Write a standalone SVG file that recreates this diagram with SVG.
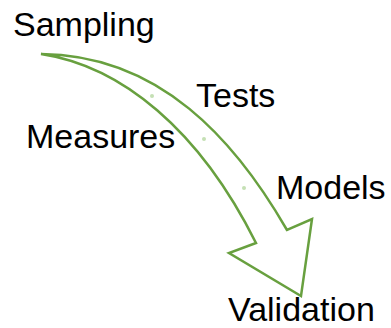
<svg xmlns="http://www.w3.org/2000/svg" width="391" height="328" viewBox="0 0 391 328">
<style>
.lbl{font-family:"Liberation Sans",Arial,sans-serif;font-size:34px;fill:#000}
.arrow{fill:#fff;stroke:#68a03f;stroke-width:2.5;stroke-linejoin:miter}
.dot{fill:#c5e0b4}
</style>
<rect width="391" height="328" fill="#fff"/>
<g id="connectors">
<path class="arrow" d="M41,54 C160,55 235,140 287,230 L312,219 L301,296 L229,253 L256,243 C199,129 121,66 41,54 Z"/>
<circle class="dot" cx="152" cy="96" r="2"/>
<circle class="dot" cx="204" cy="139" r="2"/>
<circle class="dot" cx="244" cy="188" r="2"/>
</g>
<g id="sampling"><text class="lbl" x="13" y="36">Sampling</text></g>
<g id="tests"><text class="lbl" x="196" y="107">Tests</text></g>
<g id="measures"><text class="lbl" x="26" y="148">Measures</text></g>
<g id="models"><text class="lbl" x="276" y="199">Models</text></g>
<g id="validation"><text class="lbl" x="228" y="321">Validation</text></g>
</svg>
